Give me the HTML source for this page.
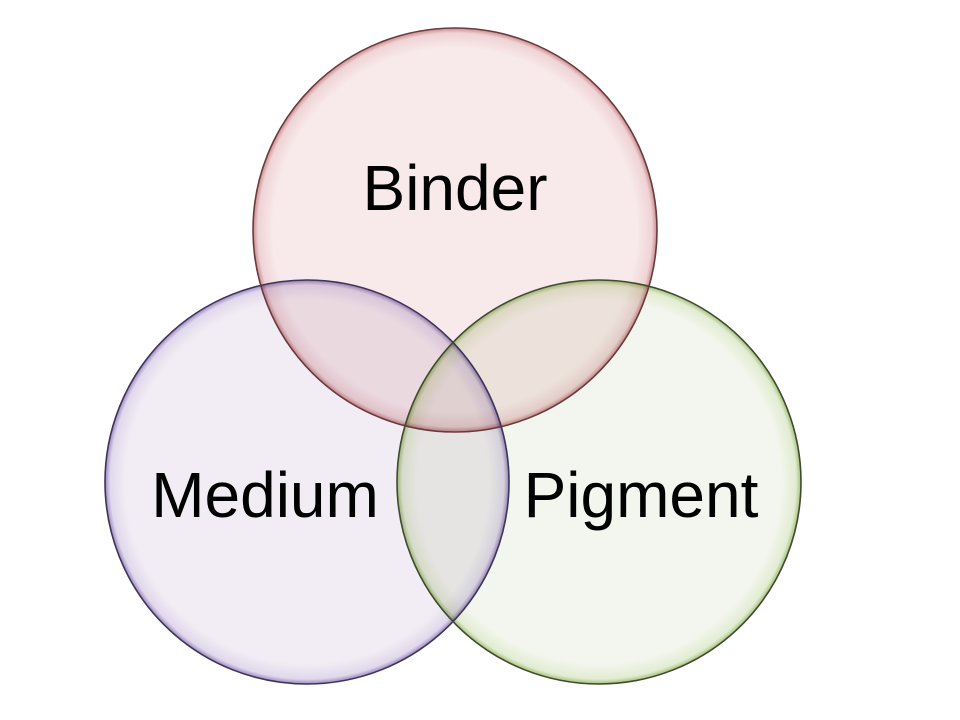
<!DOCTYPE html>
<html><head><meta charset="utf-8"><style>
html,body{margin:0;padding:0;background:#fff;width:960px;height:720px;overflow:hidden}
svg{display:block}
text{font-family:"Liberation Sans",sans-serif;font-size:64px;fill:#000}
</style></head><body>
<svg width="960" height="720" viewBox="0 0 960 720" xmlns="http://www.w3.org/2000/svg">
<defs>
<radialGradient id="gr" cx="50%" cy="50%" r="50%">
<stop offset="0.9" stop-color="#f8eaeb"/><stop offset="0.975" stop-color="#efd3d5"/><stop offset="1" stop-color="#c88a8e"/></radialGradient>
<radialGradient id="gp" cx="50%" cy="50%" r="50%">
<stop offset="0.9" stop-color="#f2edf4"/><stop offset="0.975" stop-color="#e0d8ec"/><stop offset="1" stop-color="#9a88c0"/></radialGradient>
<radialGradient id="gg" cx="50%" cy="50%" r="50%">
<stop offset="0.9" stop-color="#f3f6ee"/><stop offset="0.975" stop-color="#e2ecd2"/><stop offset="1" stop-color="#a4c07a"/></radialGradient>
</defs>
<g>
<circle cx="455" cy="230" r="202" fill="url(#gr)" style="mix-blend-mode:multiply"/>
<circle cx="307" cy="482" r="202" fill="url(#gp)" style="mix-blend-mode:multiply"/>
<circle cx="599" cy="482" r="202" fill="url(#gg)" style="mix-blend-mode:multiply"/>
</g>
<circle cx="455" cy="230" r="202" fill="none" stroke="#6a3a3e" stroke-width="1.6"/>
<circle cx="307" cy="482" r="202" fill="none" stroke="#3e3458" stroke-width="1.6"/>
<circle cx="599" cy="482" r="202" fill="none" stroke="#3f4a2e" stroke-width="1.6"/>
<text x="455" y="210" text-anchor="middle">Binder</text>
<text x="265" y="517" text-anchor="middle">Medium</text>
<text x="641" y="517" text-anchor="middle">Pigment</text>
</svg>
</body></html>
